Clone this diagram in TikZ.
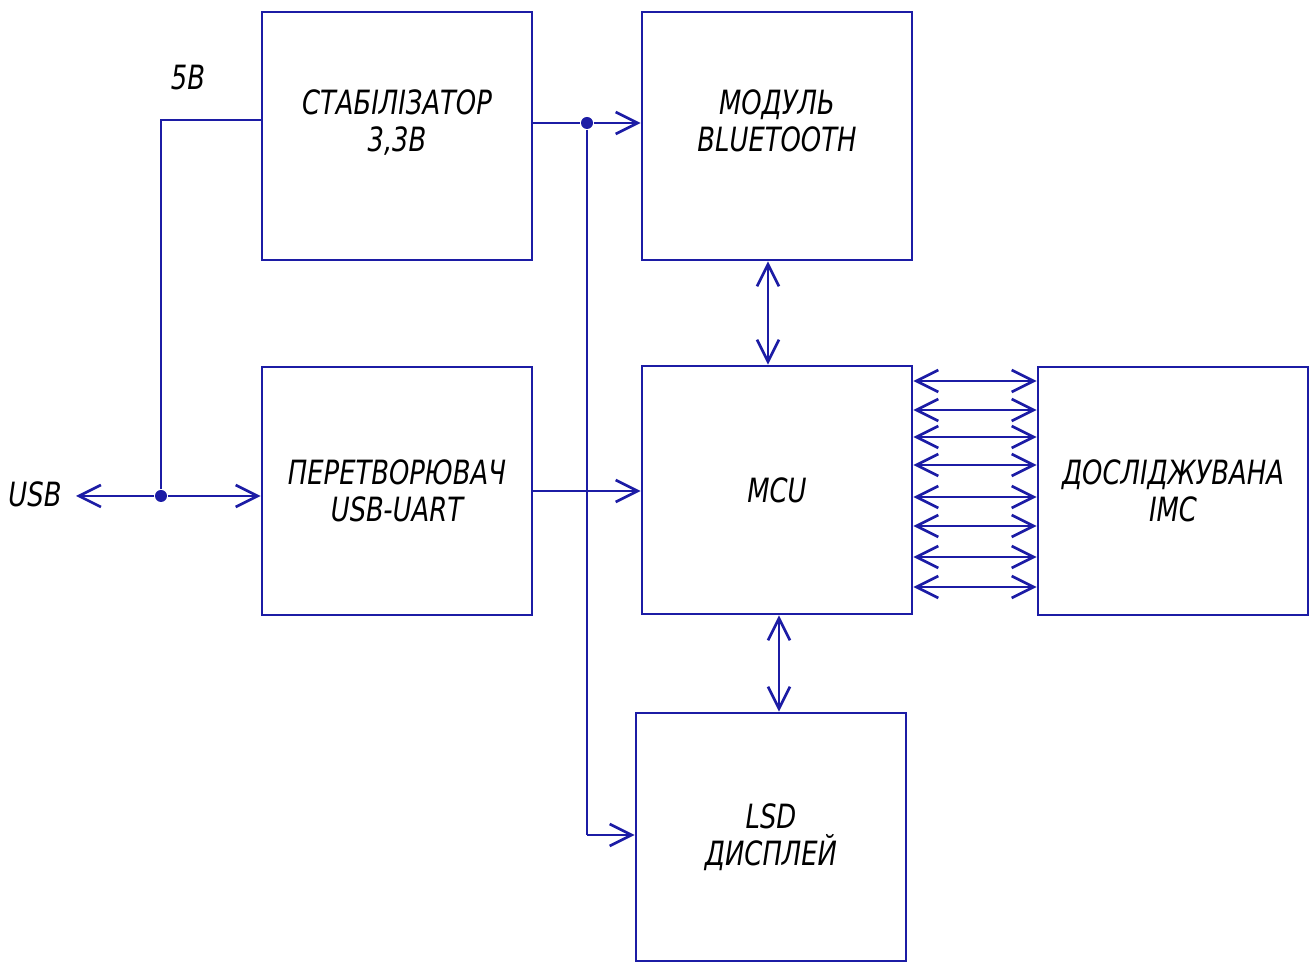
\documentclass[tikz,border=0pt]{standalone}
\usepackage{fontspec}
\setmainfont{DejaVu Sans Condensed}[FakeStretch=0.86]
\usepackage{xcolor}
\usetikzlibrary{arrows.meta,positioning,calc}
\definecolor{wire}{RGB}{28,28,165}

\begin{document}
\begin{tikzpicture}[x=0.01cm,y=-0.01cm,
  blk/.style={draw=wire,line width=0.75pt,minimum width=2.7cm,minimum height=2.48cm,
    inner sep=0pt,align=center,font=\itshape\fontsize{9.5}{10.5}\selectfont},
  ln/.style={wire,line width=0.75pt},
  ar/.style={ln,-{Straight Barb[length=2.2mm,width=2.2mm]}},
  bar/.style={ln,{Straight Barb[length=2.2mm,width=2.2mm]}-{Straight Barb[length=2.2mm,width=2.2mm]}},
  dot/.style={circle,fill=wire,inner sep=0pt,minimum size=1.2mm},
  lb/.style={font=\itshape\fontsize{9.5}{10.5}\selectfont}
]
\useasboundingbox (0,0) rectangle (1314,962);
% ---- blocks ----
\node[blk] (stab) at (397,136) {СТАБІЛІЗАТОР\\3,3В\\[-0.7mm]\mbox{}};
\node[blk] (bt)   at (777,136) {МОДУЛЬ\\BLUETOOTH\\[-0.7mm]\mbox{}};
\node[blk] (conv) at (397,491) {ПЕРЕТВОРЮВАЧ\\USB-UART};
\node[blk] (mcu)  at (777,490) {MCU};
\node[blk] (ims)  at (1173,491) {ДОСЛІДЖУВАНА\\ІМС};
\node[blk] (lsd)  at (771,837) {LSD\\ДИСПЛЕЙ};
% ---- usb input ----
\node[lb] (usb) at (35,494) {USB};
\node[lb] (v5)  at (188,78) {5В};
\node[dot] (j1) at (161,496) {};
\coordinate (usbend) at (76,496);
\draw[ar] (j1) -- (usbend);
\draw[ar] (j1) -- (j1 -| conv.west);
\draw[ln] (j1) |- (stab.west |- 0,120);
% ---- 3.3V supply ----
\node[dot] (j2) at (587,123) {};
\draw[ln] (stab.east |- j2) -- (j2);
\draw[ar] (j2) -- (j2 -| bt.west);
\coordinate (down) at (587,835);
\draw[ln] (j2) -- (down);
\draw[ar] (down) -- (down -| lsd.west);
% ---- data ----
\draw[ar] (conv.east |- 0,491) -- (mcu.west |- 0,491);
\draw[bar] (bt.south -| 768,0) -- (mcu.north -| 768,0);
\draw[bar] (mcu.south -| 779,0) -- (lsd.north -| 779,0);
\foreach \yy in {381,410,437,465,497,526,557,587}
  \draw[bar] (mcu.east |- 0,\yy) -- (ims.west |- 0,\yy);
\end{tikzpicture}
\end{document}
